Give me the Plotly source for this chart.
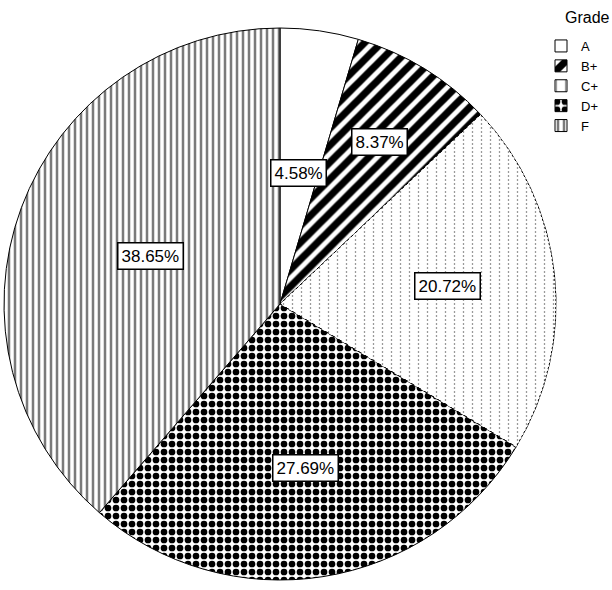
import math
import plotly.graph_objects as go

# Data
grades = ["A", "B+", "C+", "D+", "F"]
percents = [4.58, 8.37, 20.72, 27.69, 38.65]
legend_title = "Grade"

# Styles
label_rfrac = [0.48, 0.69, 0.61, 0.60, 0.50]
pat_shapes = ["", "/", "|", ".", "|"]
pat_fg = ["black", "black", "#9a9a9a", "black", "#7a7a7a"]
pat_size = [8, 12, 9, 8, 6]
pat_solid = [0.3, 0.6, 0.14, 0.55, 0.42]

W, H = 612, 590
cx, cy, R = 280, 304, 276

dom_x = [(cx - R) / W, (cx + R) / W]
dom_y = [1 - (cy + R) / H, 1 - (cy - R) / H]

fig = go.Figure()
fig.add_trace(go.Pie(
    labels=grades, values=percents, sort=False, direction="clockwise", rotation=0,
    textinfo="none", hoverinfo="skip",
    marker=dict(colors=["white"] * 5, line=dict(color="black", width=1),
                pattern=dict(shape=pat_shapes, fgcolor=pat_fg, bgcolor=["white"] * 5,
                             size=pat_size, solidity=pat_solid, fillmode="replace")),
    domain=dict(x=dom_x, y=dom_y),
))
# overlay to break C+ lines into dashes
fig.add_trace(go.Pie(
    labels=grades, values=percents, sort=False, direction="clockwise", rotation=0,
    textinfo="none", hoverinfo="skip", showlegend=False,
    marker=dict(colors=["rgba(0,0,0,0)"] * 5, line=dict(color="rgba(0,0,0,0)", width=0),
                pattern=dict(shape=["", "", "-", "", ""], fgcolor=["white"] * 5,
                             bgcolor=["rgba(0,0,0,0)"] * 5, size=4, solidity=0.5)),
    domain=dict(x=dom_x, y=dom_y),
))

total = sum(percents)
cum = 0.0
for g, p, rf in zip(grades, percents, label_rfrac):
    mid = (cum + p / 2) / total * 2 * math.pi
    cum += p
    xp = cx + rf * R * math.sin(mid)
    yp = cy - rf * R * math.cos(mid)
    fig.add_annotation(x=xp / W, y=1 - yp / H, xref="paper", yref="paper",
                       xanchor="center", yanchor="middle",
                       text=f"{p:.2f}%", showarrow=False,
                       font=dict(family="Liberation Sans, Arial", size=17, color="black"),
                       bgcolor="white", bordercolor="black", borderwidth=1.5, borderpad=3)

fig.add_annotation(x=587 / W, y=1 - 18 / H, xref="paper", yref="paper",
                   xanchor="center", yanchor="middle", text=legend_title, showarrow=False,
                   font=dict(family="Liberation Sans, Arial", size=16, color="black"))

fig.update_layout(
    width=W, height=H, margin=dict(l=0, r=0, t=0, b=0),
    paper_bgcolor="white", plot_bgcolor="white",
    legend=dict(x=0.884, xanchor="left", y=1 - 31 / H, yanchor="top",
                font=dict(family="Liberation Sans, Arial", size=13, color="black"),
                itemwidth=30, tracegroupgap=0, bgcolor="rgba(0,0,0,0)"),
    font=dict(family="Liberation Sans, Arial", color="black"),
)
fig.write_html("out.html")
